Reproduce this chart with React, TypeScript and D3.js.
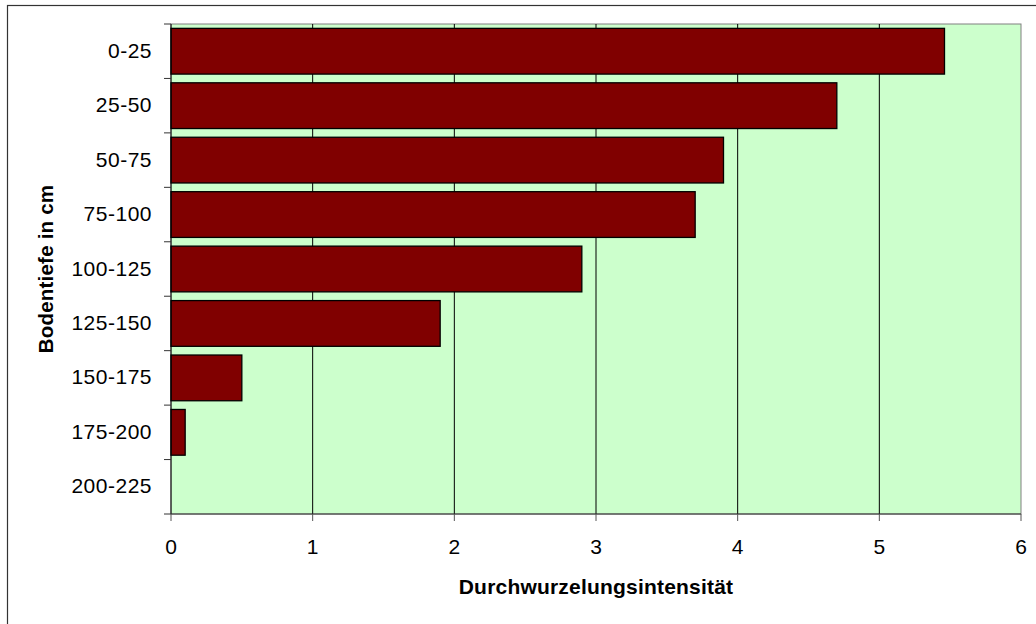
import React from "react";
import * as d3 from "d3";

const categories = ["0-25", "25-50", "50-75", "75-100", "100-125", "125-150", "150-175", "175-200", "200-225"];
const values = [5.46, 4.7, 3.9, 3.7, 2.9, 1.9, 0.5, 0.1, 0];
const xTicks = [0, 1, 2, 3, 4, 5, 6];
const xTitle = "Durchwurzelungsintensität";
const yTitle = "Bodentiefe in cm";

const W = 1036;
const H = 624;
const plot = { left: 171, right: 1021, top: 24, bottom: 514 };
const font = "Arial, 'Liberation Sans', sans-serif";

export default function App() {
  const x = d3.scaleLinear().domain([0, 6]).range([plot.left, plot.right]);
  const y = d3
    .scaleBand<string>()
    .domain(categories)
    .range([plot.top, plot.bottom])
    .paddingInner(0.16)
    .paddingOuter(0.08);
  const yb = d3.scaleBand<string>().domain(categories).range([plot.top, plot.bottom]);

  return (
    <svg
      width={W}
      height={H}
      style={{ position: "absolute", left: 0, top: 0, background: "#fff" }}
    >
      <rect x={7.5} y={5.5} width={1200} height={800} fill="#fff" stroke="#333" strokeWidth={1.2} />
      <rect
        x={plot.left}
        y={plot.top}
        width={plot.right - plot.left}
        height={plot.bottom - plot.top}
        fill="#CCFFCC"
        stroke="#808080"
        strokeWidth={1}
      />
      {xTicks.slice(1, -1).map((t) => (
        <line key={t} x1={x(t)} x2={x(t)} y1={plot.top} y2={plot.bottom} stroke="#000" strokeWidth={1} />
      ))}
      {categories.map((c, i) => (
        <rect
          key={c}
          x={x(0)}
          y={y(c)!}
          width={x(values[i]) - x(0)}
          height={y.bandwidth()}
          fill="#800000"
          stroke="#000"
          strokeWidth={1.3}
          opacity={values[i] > 0 ? 1 : 0}
        />
      ))}
      <line x1={plot.left} x2={plot.left} y1={plot.top} y2={plot.bottom} stroke="#000" strokeWidth={1} />
      <line x1={plot.left - 7} x2={plot.right} y1={plot.bottom} y2={plot.bottom} stroke="#333" strokeWidth={1} />
      {categories.map((c) => (
        <line key={"yt" + c} x1={plot.left - 7} x2={plot.left} y1={yb(c)!} y2={yb(c)!} stroke="#333" strokeWidth={1} />
      ))}
      {xTicks.map((t) => (
        <line key={"xt" + t} x1={x(t)} x2={x(t)} y1={plot.bottom} y2={plot.bottom + 7} stroke="#555" strokeWidth={1} />
      ))}
      {categories.map((c) => (
        <text
          key={"yl" + c}
          x={152}
          y={yb(c)! + yb.bandwidth() / 2 + 6.5}
          textAnchor="end"
          fontFamily={font}
          fontSize={21}
          letterSpacing={0.5}
          fill="#000"
        >
          {c}
        </text>
      ))}
      {xTicks.map((t) => (
        <text
          key={"xl" + t}
          x={x(t)}
          y={554}
          textAnchor="middle"
          fontFamily={font}
          fontSize={21}
          fill="#000"
        >
          {t}
        </text>
      ))}
      <text
        x={(plot.left + plot.right) / 2}
        y={594}
        textAnchor="middle"
        fontFamily={font}
        fontSize={21}
        fontWeight="bold"
        letterSpacing={0.2}
        fill="#000"
      >
        {xTitle}
      </text>
      <text
        transform={`translate(53, ${(plot.top + plot.bottom) / 2}) rotate(-90)`}
        textAnchor="middle"
        fontFamily={font}
        fontSize={20.5}
        fontWeight="bold"
        letterSpacing={0.2}
        fill="#000"
      >
        {yTitle}
      </text>
    </svg>
  );
}
